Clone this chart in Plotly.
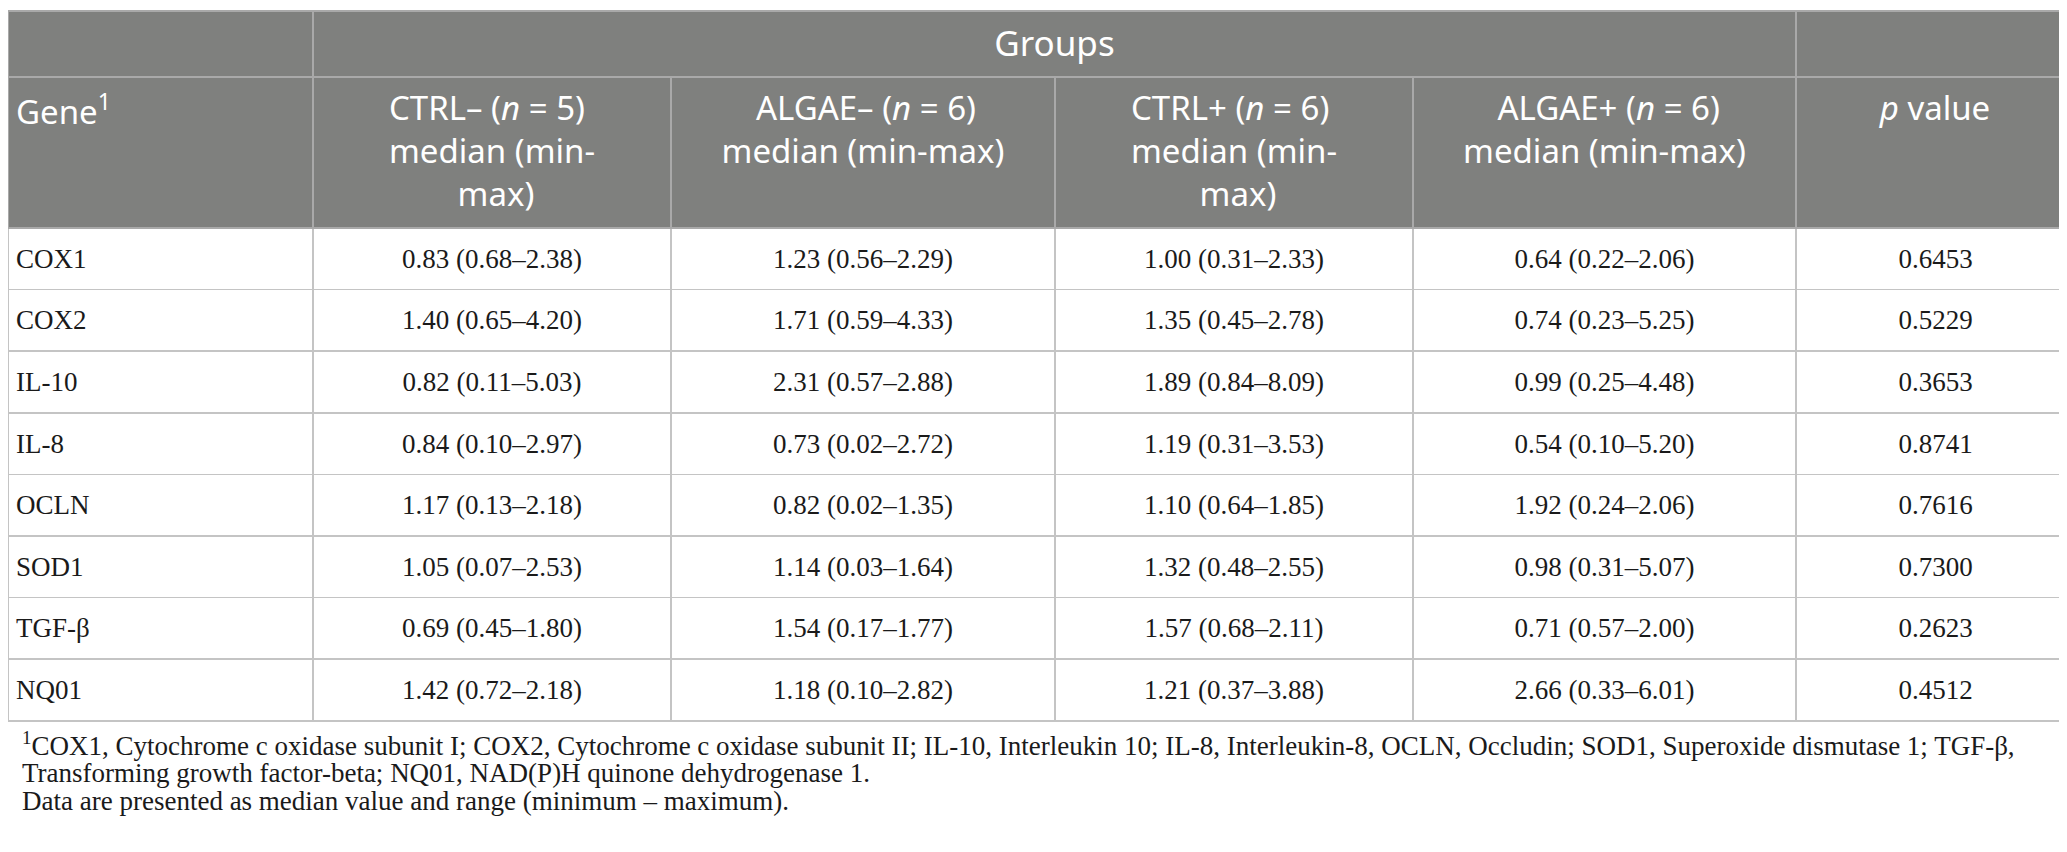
import plotly.graph_objects as go

# table content
genes = ["COX1", "COX2", "IL-10", "IL-8", "OCLN", "SOD1", "TGF-β", "NQ01"]
ctrl_minus = ["0.83 (0.68–2.38)", "1.40 (0.65–4.20)", "0.82 (0.11–5.03)", "0.84 (0.10–2.97)",
              "1.17 (0.13–2.18)", "1.05 (0.07–2.53)", "0.69 (0.45–1.80)", "1.42 (0.72–2.18)"]
algae_minus = ["1.23 (0.56–2.29)", "1.71 (0.59–4.33)", "2.31 (0.57–2.88)", "0.73 (0.02–2.72)",
               "0.82 (0.02–1.35)", "1.14 (0.03–1.64)", "1.54 (0.17–1.77)", "1.18 (0.10–2.82)"]
ctrl_plus = ["1.00 (0.31–2.33)", "1.35 (0.45–2.78)", "1.89 (0.84–8.09)", "1.19 (0.31–3.53)",
             "1.10 (0.64–1.85)", "1.32 (0.48–2.55)", "1.57 (0.68–2.11)", "1.21 (0.37–3.88)"]
algae_plus = ["0.64 (0.22–2.06)", "0.74 (0.23–5.25)", "0.99 (0.25–4.48)", "0.54 (0.10–5.20)",
              "1.92 (0.24–2.06)", "0.98 (0.31–5.07)", "0.71 (0.57–2.00)", "2.66 (0.33–6.01)"]
p_values = ["0.6453", "0.5229", "0.3653", "0.8741", "0.7616", "0.7300", "0.2623", "0.4512"]

group_header = ["", "Groups", ""]
# table lines are left aligned inside a centred block, so short lines get padded
pad = "&nbsp;"
col_headers = ["Gene<sup>1</sup>",
               "CTRL– (<i>n</i> = 5)<br>median (min-<br>" + pad * 8 + "max)",
               pad * 4 + "ALGAE– (<i>n</i> = 6)<br>median (min-max)",
               "CTRL+ (<i>n</i> = 6)<br>median (min-<br>" + pad * 8 + "max)",
               pad * 4 + "ALGAE+ (<i>n</i> = 6)<br>median (min-max)",
               "<i>p</i> value"]

footnotes = ["<sup>1</sup>COX1, Cytochrome c oxidase subunit I; COX2, Cytochrome c oxidase subunit II; "
             "IL-10, Interleukin 10; IL-8, Interleukin-8, OCLN, Occludin; SOD1, Superoxide dismutase 1; TGF-β,",
             "Transforming growth factor-beta; NQ01, NAD(P)H quinone dehydrogenase 1.",
             "Data are presented as median value and range (minimum – maximum)."]
footnote_y = [736, 765, 793]

W, H = 2067, 852
HEAD_BG = "#7f807e"
LINE = "#c4c4c4"
HEAD_LINE = "#a9a9a9"
sans = "Noto Sans"
serif = "Liberation Serif"
aligns = ["left", "center", "center", "center", "center", "center"]


# no vertical centring in go.Table: a first line in a small base font
# pushes the real text (bigger span) down to the middle of the row
def lowered(values, size, first=""):
    return ["%s<br><span style='font-size:%dpx'>%s</span>" % (first, size, v) if v else v
            for v in values]


fig = go.Figure()

# top row with the spanning "Groups" label
fig.add_trace(go.Table(
    domain=dict(x=[0, 1], y=[1 - 69 / H, 1 - 3 / H]),
    columnwidth=[305, 1483, 279],
    header=dict(values=lowered(group_header, 35), fill_color=HEAD_BG, height=66,
                line=dict(color=HEAD_LINE, width=1.5),
                font=dict(family=sans, size=17, color="white"), align="center"),
    cells=dict(values=[[], [], []]),
))

# main table
fig.add_trace(go.Table(
    domain=dict(x=[0, 1], y=[1 - 740 / H, 1 - 69 / H]),
    columnwidth=[305, 358, 384, 358, 383, 279],
    header=dict(values=col_headers, fill_color=HEAD_BG, height=151,
                line=dict(color=HEAD_LINE, width=1.5),
                font=dict(family=sans, size=33, color="white"), align=aligns),
    cells=dict(values=[lowered(c, 27, pad) for c in
                       [genes, ctrl_minus, algae_minus, ctrl_plus, algae_plus, p_values]],
               fill_color="white", height=61.6,
               line=dict(color=LINE, width=1.5),
               font=dict(family=serif, size=14.5, color="#1a1a1a"), align=aligns),
))

for line, yy in zip(footnotes, footnote_y):
    fig.add_annotation(x=12 / W, y=1 - yy / H, xref="paper", yref="paper",
                       xanchor="left", yanchor="middle", align="left", showarrow=False,
                       text=line, font=dict(family=serif, size=27, color="#1a1a1a"))

fig.update_layout(width=W, height=H, margin=dict(l=0, r=0, t=0, b=0),
                  paper_bgcolor="white", plot_bgcolor="white")

fig.write_html("out.html")
